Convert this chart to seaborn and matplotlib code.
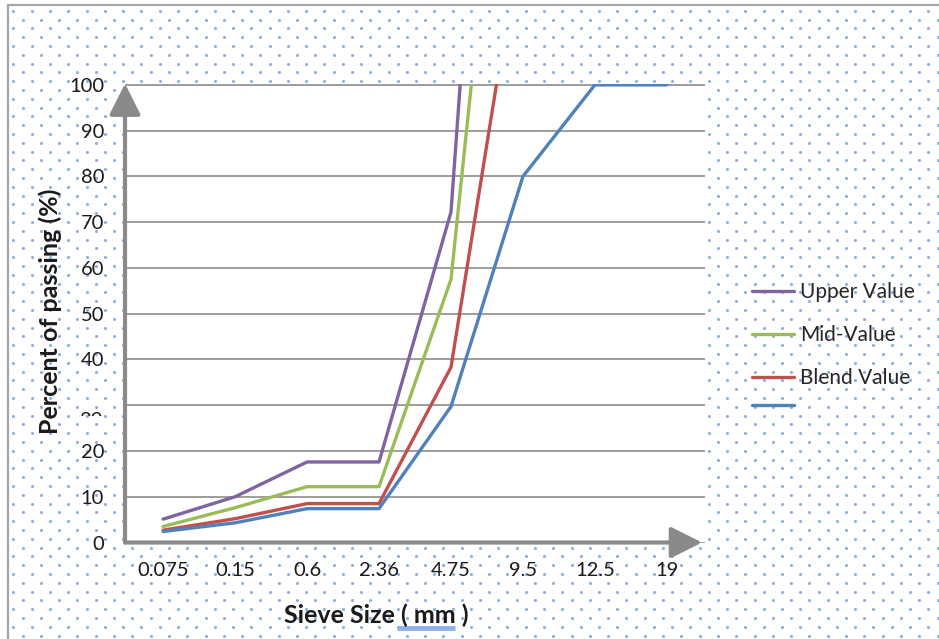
import numpy as np
import pandas as pd
import matplotlib
matplotlib.use("Agg")
import matplotlib.pyplot as plt
import seaborn as sns
from matplotlib.lines import Line2D
from matplotlib.transforms import Bbox, TransformedBbox

# sieve sizes (categorical x axis) and % passing
sieve = ["0.075", "0.15", "0.6", "2.36", "4.75", "9.5", "12.5", "19"]
upper = [5.1, 10.0, 17.6, 17.6, 72.2, 290.0, np.nan, np.nan]
mid = [3.5, 7.6, 12.2, 12.2, 57.5, 208.0, np.nan, np.nan]
blend = [2.7, 5.2, 8.5, 8.5, 38.3, 136.0, np.nan, np.nan]
grading = [2.4, 4.3, 7.4, 7.4, 29.7, 80.0, 100.0, 100.0]

series_keys = ["upper", "mid", "blend", "grading"]
legend_labels = ["Upper Value", "Mid-Value", "Blend Value", ""]
colors = ["#8064A2", "#9BBB59", "#C0504D", "#4F81BD"]
y_ticks = list(range(0, 101, 10))

df = pd.DataFrame({
    "sieve": sieve * 4,
    "passing": upper + mid + blend + grading,
    "series": [k for k in series_keys for _ in sieve],
})
df = df.dropna()

sns.set_theme(style="white")
plt.rcParams["font.family"] = ["Lato", "DejaVu Sans"]

W, H = 939, 639
fig = plt.figure(figsize=(W / 100, H / 100), dpi=100)
fig.patch.set_facecolor("white")

# dotted background texture of the chart area
bg = fig.add_axes([0, 0, 1, 1], zorder=-5)
bg.set_xlim(0, W)
bg.set_ylim(H, 0)
bg.axis("off")
xs = np.arange(13.3, W, 18.3)
ys = np.arange(10.7, H, 8.8)
gx, gy = [], []
for i, yv in enumerate(ys):
    off = 0 if i % 2 == 0 else 9.2
    gx.extend(xs + off)
    gy.extend([yv] * len(xs))
bg.scatter(gx, gy, s=5, color="#8eafdd", linewidths=0)

# outer border (top and left)
fig.add_artist(Line2D([8 / W, 8 / W], [0, 1 - 5 / H], color="#a6a6a6", lw=1.6))
fig.add_artist(Line2D([8 / W, 1], [1 - 5 / H, 1 - 5 / H], color="#a6a6a6", lw=1.6))

ax = fig.add_axes([125 / W, 1 - 542.5 / H, 580 / W, 459 / H])
ax.set_facecolor("white")

sns.lineplot(data=df, x="sieve", y="passing", hue="series",
             hue_order=series_keys, palette=dict(zip(series_keys, colors)),
             sort=False, estimator=None, linewidth=2.4, legend=False, ax=ax)

ax.set_xlim(-0.53, 7.53)
ax.set_ylim(0, 100.3)
ax.set_yticks(y_ticks)
ax.set_yticklabels([str(v) if v != 30 else "" for v in y_ticks])
ax.yaxis.grid(True, color="#8c8c8c", lw=1.2)
ax.xaxis.grid(False)
ax.set_axisbelow(True)
for s in ax.spines.values():
    s.set_visible(False)
ax.tick_params(axis="both", length=0, labelsize=14.5, colors="#1a1a1a")
ax.tick_params(axis="x", pad=14)
ax.tick_params(axis="y", pad=15)
ax.set_xlabel("")
ax.set_ylabel("")

# axis arrows
arrow = dict(arrowstyle="-|>,head_length=1.6,head_width=0.8", lw=3,
             color="#8a8a8a", shrinkA=0, shrinkB=0)
ax.annotate("", xy=(0, 1.0), xytext=(0, 0), xycoords="axes fraction",
            textcoords="axes fraction", arrowprops=arrow, annotation_clip=False)
ax.annotate("", xy=(0.995, 0), xytext=(0, 0), xycoords="axes fraction",
            textcoords="axes fraction", arrowprops=arrow, annotation_clip=False)

# half-hidden "30" label as in the original
t30 = fig.text(103 / W, 1 - 420 / H, "30", ha="right", va="center",
               fontsize=14.5, color="#1a1a1a")
t30.set_clip_box(TransformedBbox(Bbox.from_extents(60 / W, 1 - 416 / H, 115 / W, 1 - 400 / H),
                                 fig.transFigure))
t30.set_clip_on(True)

# axis titles
fig.text(50 / W, 1 - 311 / H, "Percent of passing (%)", rotation=90,
         ha="center", va="center", fontsize=18, fontweight="bold", color="#1a1a1a")
fig.text(376 / W, 1 - 615 / H, "Sieve Size ( mm )", ha="center", va="center",
         fontsize=18, fontweight="bold", color="#1a1a1a")
fig.add_artist(Line2D([397 / W, 455 / W], [1 - 628 / H, 1 - 628 / H],
                      color="#8fb0ea", lw=3.5, solid_capstyle="butt"))

# legend: three labelled entries, the unlabelled blue one sits closer below
leg_kw = dict(bbox_transform=fig.transFigure, frameon=False, fontsize=15,
              handlelength=2.0, handletextpad=0.3, labelspacing=1.1,
              borderpad=0, borderaxespad=0)
leg1 = ax.legend(handles=ax.lines[:3], labels=legend_labels[:3], loc="upper left",
                 bbox_to_anchor=(752 / W, 1 - 282 / H), **leg_kw)
ax.add_artist(leg1)
ax.legend(handles=ax.lines[3:4], labels=legend_labels[3:], loc="center left",
          bbox_to_anchor=(752 / W, 1 - 406 / H), **leg_kw)

fig.savefig("out.png", dpi=100)
